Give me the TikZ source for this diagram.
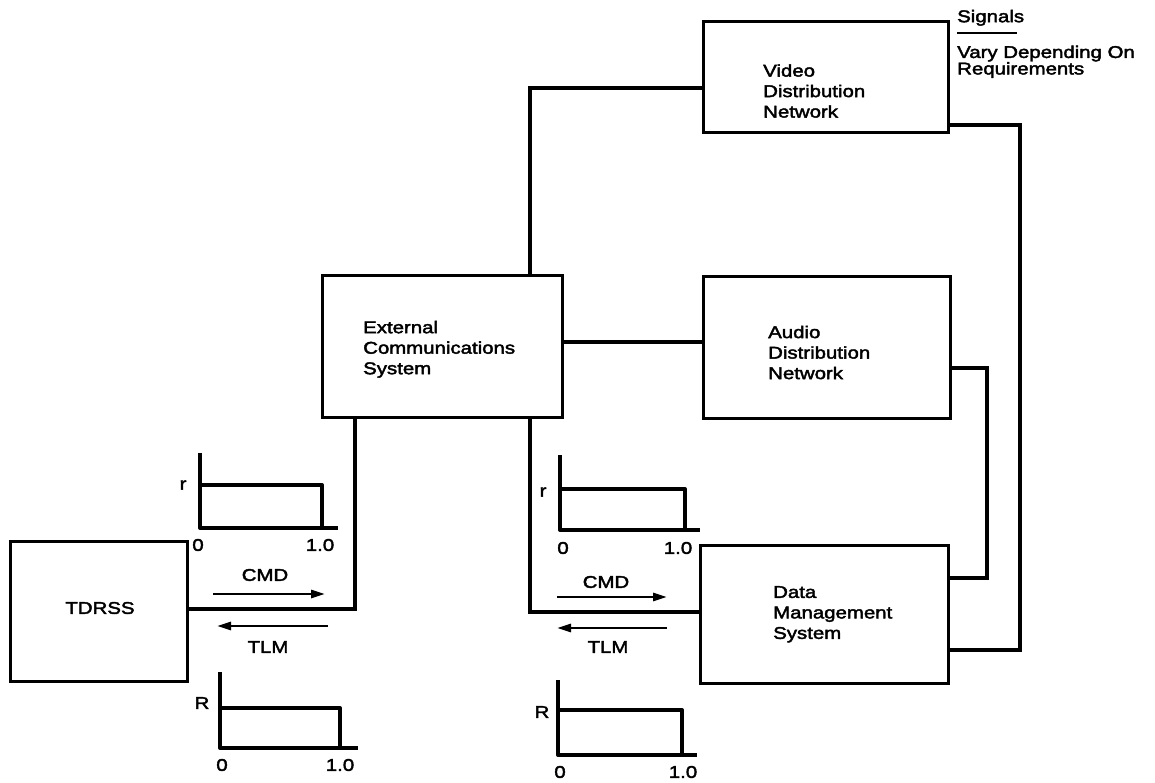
\documentclass[tikz,border=0pt]{standalone}
\usepackage{fontspec}
\setmainfont{Liberation Sans}[FakeStretch=1.2, FakeBold=2.4]
\usetikzlibrary{arrows.meta}
\begin{document}
\begin{tikzpicture}[x=1pt,y=-1pt,
  box/.style={draw, line width=3pt, inner sep=0pt},
  wire/.style={line width=3.4pt},
  plot/.style={line width=4pt, line join=round},
  lbl/.style={font=\fontsize{17}{20.5}\selectfont, inner sep=0pt},
  note/.style={font=\fontsize{17}{16.5}\selectfont, inner sep=0pt, align=left, anchor=west},
  flow/.style={line width=2.8pt, -{Triangle[length=14pt,width=8pt]}}]
\useasboundingbox (0,0) rectangle (1155,783);

% system blocks
\node[box, minimum width=245pt, minimum height=111pt] (video) at (825.5,77.5) {};
\node[box, minimum width=247pt, minimum height=141pt] (audio) at (826.5,347.5) {};
\node[box, minimum width=240pt, minimum height=141pt] (ecs)   at (442,346.5) {};
\node[box, minimum width=248pt, minimum height=138pt] (dms)   at (824,614) {};
\node[box, minimum width=177pt, minimum height=140pt] (tdrss) at (98.5,611) {};

% block titles
\node[lbl, anchor=west, align=left] (videoT) at (763,91) {Video\\Distribution\\Network};
\node[lbl, anchor=west, align=left] (audioT) at (768,352.5) {Audio\\Distribution\\Network};
\node[lbl, anchor=west, align=left] (ecsT)   at (363,349.3) {External\\Communications\\System};
\node[lbl, anchor=west, align=left] (dmsT)   at (773,614.3) {Data\\Management\\System};
\node[lbl] (tdrssT) at (100,608) {TDRSS};

% legend
\node[lbl, anchor=west] (sig) at (957,17.8) {Signals};
\draw[line width=1.8pt] (957,33) -- (1017,33);
\node[note] (vary) at (957,61.8) {Vary Depending On\\Requirements};

% interconnections
\coordinate (vbend) at (530,88);
\draw[wire] (ecs.north -| vbend) |- (video.west |- vbend);
\coordinate (abend) at (0,342);
\draw[wire] (ecs.east |- abend) -- (audio.west |- abend);
\coordinate (tl) at (355,609);
\draw[wire] (ecs.south -| tl) |- (tdrss.east |- tl);
\coordinate (tr) at (530,612);
\draw[wire] (ecs.south -| tr) |- (dms.west |- tr);
\coordinate (ab) at (987,368);
\coordinate (ad) at (987,578);
\draw[wire] (audio.east |- ab) -| (ad) -- (dms.east |- ad);
\coordinate (vb) at (1020,125);
\coordinate (vd) at (1020,650);
\draw[wire] (video.east |- vb) -| (vd) -- (dms.east |- vd);

% link direction arrows
\coordinate (lcmdA) at (213,594); \coordinate (lcmdB) at (325,594);
\draw[flow] (lcmdA) -- (lcmdB);
\node[lbl] (lcmd) at (265,575) {CMD};
\coordinate (ltlmA) at (328,626); \coordinate (ltlmB) at (217,626);
\draw[flow] (ltlmA) -- (ltlmB);
\node[lbl] (ltlm) at (268,647) {TLM};
\coordinate (rcmdA) at (557,597); \coordinate (rcmdB) at (667,597);
\draw[flow] (rcmdA) -- (rcmdB);
\node[lbl] (rcmd) at (606,582) {CMD};
\coordinate (rtlmA) at (667,628); \coordinate (rtlmB) at (557,628);
\draw[flow] (rtlmA) -- (rtlmB);
\node[lbl] (rtlm) at (608,647) {TLM};

% rate profiles
\draw[plot] (200,453) -- (200,528) -- (338,528);
\draw[plot] (200,485) -- (322,485) -- (322,528);
\node[lbl] (g1r) at (183,485) {r};
\node[lbl] (g1a) at (198,545) {0};
\node[lbl] (g1b) at (320,545) {1.0};

\draw[plot] (220,672) -- (220,748) -- (358,748);
\draw[plot] (220,708) -- (340,708) -- (340,748);
\node[lbl] (g2r) at (202,703) {R};
\node[lbl] (g2a) at (222,765) {0};
\node[lbl] (g2b) at (340,765) {1.0};

\draw[plot] (560,455) -- (560,530) -- (700,530);
\draw[plot] (560,489) -- (685,489) -- (685,530);
\node[lbl] (g3r) at (543,492) {r};
\node[lbl] (g3a) at (563,548) {0};
\node[lbl] (g3b) at (678,548) {1.0};

\draw[plot] (558,680) -- (558,755) -- (697,755);
\draw[plot] (558,710) -- (682,710) -- (682,755);
\node[lbl] (g4r) at (542,712) {R};
\node[lbl] (g4a) at (560,772) {0};
\node[lbl] (g4b) at (683,772) {1.0};
\end{tikzpicture}
\end{document}
